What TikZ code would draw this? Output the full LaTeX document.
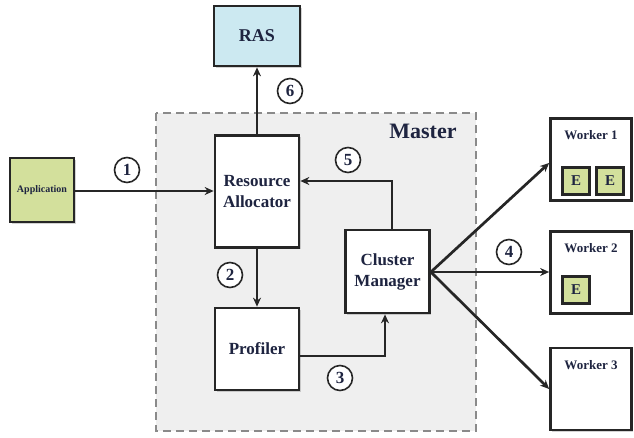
\documentclass[tikz,border=0pt]{standalone}
\usepackage{fontspec}
\setmainfont{Liberation Serif}
\usetikzlibrary{shadows,arrows.meta}
\definecolor{txt}{HTML}{1E2440}
\definecolor{appgreen}{HTML}{D3E09C}
\definecolor{rasblue}{HTML}{CCE9F1}
\definecolor{mastergrey}{HTML}{EFEFEF}
\definecolor{dashgrey}{HTML}{8A8A8A}
\tikzset{
  box/.style={draw=black!85, line width=2.7pt, fill=white, inner sep=0pt,
    align=center, font=\bfseries, text=txt,
    drop shadow={shadow xshift=1.5pt, shadow yshift=-1.5pt, opacity=0.35}},
  ebox/.style={box, fill=appgreen, minimum width=27pt, minimum height=27pt,
    font=\bfseries\fontsize{15}{15}\selectfont},
  numc/.style={draw=black!85, line width=1.6pt, circle, inner sep=0pt,
    minimum size=25pt, font=\bfseries\fontsize{17}{17}\selectfont, text=txt, fill=white},
  link/.style={line width=2.7pt, draw=black!85, -{Stealth[length=9pt,width=8pt]}},
}
\begin{document}
\begin{tikzpicture}[x=1pt,y=-1pt]
\useasboundingbox (0,0) rectangle (634,437);

% master region
\draw[fill=mastergrey, draw=dashgrey, line width=2.4pt, dash pattern=on 8pt off 5pt]
  (156,113) rectangle (476,431);
\node[font=\bfseries\fontsize{22}{22}\selectfont, text=txt] (master) at (423,131) {Master};

% components
\node[box, fill=rasblue, minimum width=86pt, minimum height=60pt,
  font=\bfseries\fontsize{18}{18}\selectfont] (ras) at (257,36) {RAS};
\node[box, fill=appgreen, minimum width=64pt, minimum height=64pt,
  font=\bfseries\fontsize{10}{10}\selectfont] (app) at (42,190) {Application};
\node[box, minimum width=84pt, minimum height=112pt,
  font=\bfseries\fontsize{17}{21}\selectfont] (ra) at (257,191.5) {Resource\\Allocator};
\node[box, minimum width=84pt, minimum height=82pt,
  font=\bfseries\fontsize{17}{21}\selectfont] (prof) at (257,349) {Profiler};
\node[box, minimum width=84pt, minimum height=83pt,
  font=\bfseries\fontsize{17}{21}\selectfont] (cm) at (387.5,271.5) {Cluster\\Manager};

% workers
\foreach \n/\y in {1/159.5, 2/272.5, 3/389} {
  \node[box, minimum width=81pt, minimum height=82pt] (w\n) at (591,\y) {};
  \node[font=\bfseries\fontsize{13}{13}\selectfont, text=txt, anchor=north]
    (w\n t) at ([yshift=-10pt]w\n.north) {Worker \n};
}
\node[ebox] (e1) at (576,181) {E};
\node[ebox] (e2) at (610,181) {E};
\node[ebox] (e3) at (576,290) {E};

% connectors
\draw[link] (app.east |- 0,191) -- (ra.west |- 0,191);
\draw[link] (ra.north) -- (ras.south);
\draw[link] (ra.south) -- (prof.north);
\draw[link] (prof.east |- 0,356) -| (cm.south -| 385,0);
\draw[link] (cm.north -| 392,0) |- (ra.east |- 0,181);
\coordinate (hub) at (cm.east |- 0,272);
\draw[link] (hub) -- (w1.west |- 0,163);
\draw[link] (hub) -- (w2.west |- 0,272);
\draw[link] (hub) -- (w3.west |- 0,389);

% step numbers
\node[numc] (n1) at (127,170) {1};
\node[numc] (n2) at (230,275) {2};
\node[numc] (n3) at (340,378) {3};
\node[numc] (n4) at (509,252) {4};
\node[numc] (n5) at (348,160) {5};
\node[numc] (n6) at (290,91) {6};
\end{tikzpicture}
\end{document}
